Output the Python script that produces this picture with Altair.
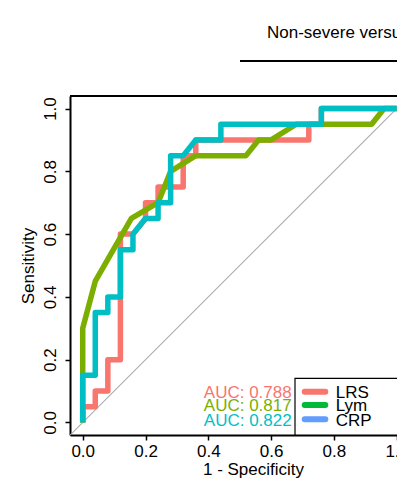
import altair as alt
import pandas as pd

# ---------------- data ----------------
series_names = ["LRS", "Lym", "CRP"]
auc_labels = ["AUC: 0.788", "AUC: 0.817", "AUC: 0.822"]
line_colors = ["#F8766D", "#7CAE00", "#00BFC4"]
legend_key_colors = ["#F8766D", "#00BA38", "#619CFF"]
title_text = "Non-severe versus severe"
x_title = "1 - Specificity"
y_title = "Sensitivity"
tick_values = [0.0, 0.2, 0.4, 0.6, 0.8, 1.0]

lrs_fpr = [0, 0, 0.04, 0.04, 0.08, 0.08, 0.12, 0.12, 0.16, 0.20, 0.20, 0.24, 0.24,
           0.32, 0.32, 0.36, 0.36, 0.72, 0.72, 0.76, 0.76, 1.0]
lrs_tpr = [0, 0.05, 0.05, 0.10, 0.10, 0.20, 0.20, 0.60, 0.60, 0.65, 0.70, 0.70, 0.75,
           0.75, 0.85, 0.85, 0.90, 0.90, 0.95, 0.95, 1.0, 1.0]

lym_fpr = [0, 0, 0.04, 0.155, 0.24, 0.28, 0.36, 0.52, 0.56, 0.60, 0.68, 0.92, 0.96, 1.0]
lym_tpr = [0, 0.30, 0.45, 0.65, 0.70, 0.80, 0.85, 0.85, 0.90, 0.90, 0.95, 0.95, 1.0, 1.0]

crp_fpr = [0, 0, 0.04, 0.04, 0.08, 0.08, 0.12, 0.12, 0.16, 0.16, 0.20, 0.24, 0.24,
           0.28, 0.28, 0.32, 0.36, 0.44, 0.44, 0.76, 0.76, 1.0]
crp_tpr = [0, 0.15, 0.15, 0.35, 0.35, 0.40, 0.40, 0.55, 0.55, 0.60, 0.65, 0.65, 0.70,
           0.70, 0.85, 0.85, 0.90, 0.90, 0.95, 0.95, 1.0, 1.0]

diag_x = [-0.2, 1.2]

# ---------------- layout ----------------
FONT = "Liberation Sans"
FS = 17
W, H = 327, 339          # plot area (the reference panel runs past the right edge)
x_scale = alt.Scale(domain=[-0.0405, -0.0405 + W / 314.0], nice=False, zero=False)
y_scale = alt.Scale(domain=[-0.04, 1.04], nice=False, zero=False)

x_axis = alt.Axis(values=tick_values, format=".1f", grid=False, title=x_title,
                  labelFontSize=FS, labelFont=FONT, labelColor="black",
                  labelBaseline="alphabetic", labelPadding=16.5, labelFlush=False,
                  tickSize=5, tickWidth=1.5, tickColor="black",
                  domainColor="black", domainWidth=2,
                  titleFontSize=FS, titleFont=FONT, titleFontWeight="normal",
                  titleColor="black", titleBaseline="alphabetic",
                  titleX=183, titleY=39.3, titleAlign="center")
y_axis = alt.Axis(values=tick_values, format=".1f", grid=False, title=y_title,
                  labelFontSize=FS, labelFont=FONT, labelColor="black",
                  labelAngle=270, labelAlign="center", labelBaseline="alphabetic",
                  labelPadding=10, labelFlush=False,
                  tickSize=5, tickWidth=1.5, tickColor="black",
                  domainColor="black", domainWidth=2,
                  titleFontSize=FS, titleFont=FONT, titleFontWeight="normal",
                  titleColor="black", titleBaseline="alphabetic", titleAngle=270,
                  titleX=-36.5, titleY=H / 2, titleAlign="center")

# diagonal reference
diag = alt.Chart(pd.DataFrame({"x": diag_x, "y": diag_x})).mark_line(
    color="#A9A9A9", strokeWidth=1.1, clip=True
).encode(x=alt.X("x:Q", scale=x_scale, axis=x_axis),
         y=alt.Y("y:Q", scale=y_scale, axis=y_axis))


def curve(fx, ty, color):
    d = pd.DataFrame({"fpr": fx, "tpr": ty, "step": list(range(len(fx)))})
    return alt.Chart(d).mark_line(
        color=color, strokeWidth=5.5, strokeJoin="round", strokeCap="butt"
    ).encode(x=alt.X("fpr:Q", scale=x_scale, axis=x_axis),
             y=alt.Y("tpr:Q", scale=y_scale, axis=y_axis),
             order="step:Q")


layers = [diag,
          curve(lrs_fpr, lrs_tpr, line_colors[0]),
          curve(lym_fpr, lym_tpr, line_colors[1]),
          curve(crp_fpr, crp_tpr, line_colors[2])]

one = pd.DataFrame({"t": [""]})

# top border of panel
layers.append(alt.Chart(one).mark_rule(color="black", strokeWidth=2).encode(
    x=alt.value(0), x2=alt.value(W + 5), y=alt.value(0)))

# strip title and its underline
layers.append(alt.Chart(pd.DataFrame({"t": [title_text]})).mark_text(
    font=FONT, fontSize=FS, color="black", align="left", baseline="alphabetic"
).encode(x=alt.value(197), y=alt.value(-57.7), text="t:N"))
layers.append(alt.Chart(one).mark_rule(color="black", strokeWidth=2).encode(
    x=alt.value(170), x2=alt.value(W + 5), y=alt.value(-35)))

# legend box
layers.append(alt.Chart(one).mark_rect(fill="white", stroke="black", strokeWidth=1.2).encode(
    x=alt.value(225), x2=alt.value(W + 10), y=alt.value(282.3), y2=alt.value(H)))

row_key_y = [295.7, 309.0, 323.3]
row_base_y = [301.5, 315.0, 329.5]
for i in range(3):
    layers.append(alt.Chart(one).mark_rule(
        color=legend_key_colors[i], strokeWidth=6, strokeCap="round"
    ).encode(x=alt.value(234.7), x2=alt.value(255.3), y=alt.value(row_key_y[i])))
    layers.append(alt.Chart(pd.DataFrame({"t": [series_names[i]]})).mark_text(
        font=FONT, fontSize=FS, color="black", align="left", baseline="alphabetic"
    ).encode(x=alt.value(265.7), y=alt.value(row_base_y[i]), text="t:N"))
    layers.append(alt.Chart(pd.DataFrame({"t": [auc_labels[i]]})).mark_text(
        font=FONT, fontSize=FS, color=line_colors[i], align="right", baseline="alphabetic"
    ).encode(x=alt.value(221.7), y=alt.value(row_base_y[i] + 0.3 * i), text="t:N"))

chart = alt.layer(*layers).properties(
    width=W, height=H,
    padding={"left": 62, "top": 88, "right": 0, "bottom": 43},
    autosize=alt.AutoSizeParams(type="none"),
    background="white",
).configure_view(strokeOpacity=0)

chart.save("out.html", embed_options={"renderer": "svg", "actions": False})
